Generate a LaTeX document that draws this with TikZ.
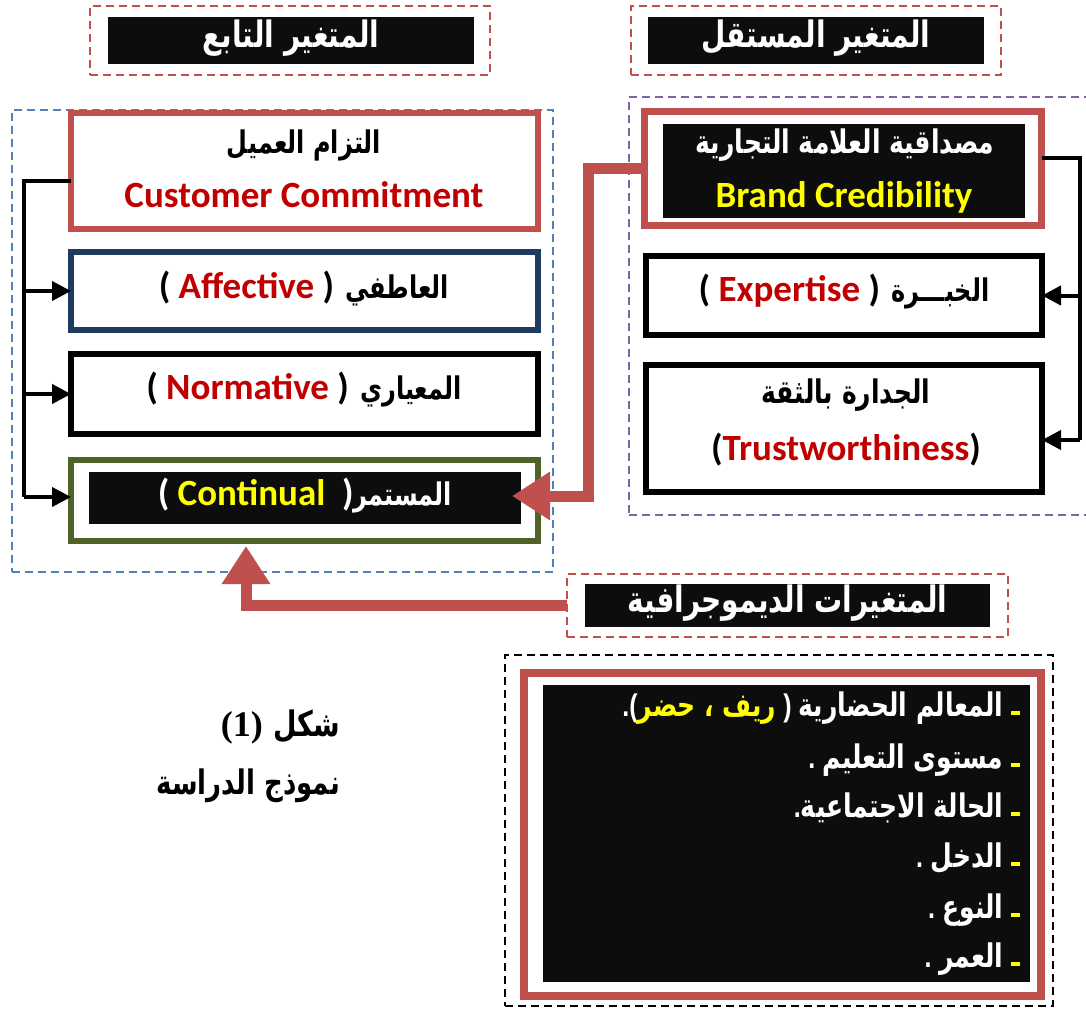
\documentclass[tikz,border=0pt]{standalone}
\usepackage{fontspec}
\usepackage{graphicx}
\usetikzlibrary{arrows.meta}
\TeXXeTstate=1
\newfontfamily\arfont[Script=Arabic]{DejaVu Sans}
\newfontfamily\latfont{Carlito}
\newfontfamily\serfont{Liberation Serif}
\newfontfamily\punctfont{Liberation Sans}
% Arabic runs: bold, right to left, slightly stretched upwards
\newcommand\AR[1]{\scalebox{1}[1.3]{\arfont\bfseries\beginR #1\endR}}
\newcommand\EN[1]{{\latfont\bfseries #1}}
\newcommand\PU[1]{\scalebox{1}[1.25]{\punctfont\bfseries #1}}
\newcommand\fs[1]{\fontsize{#1}{#1}\selectfont}
\newcommand\ydash{\textcolor{hiyellow}{\rule[1pt]{9pt}{4.5pt}}}
\definecolor{boxred}{HTML}{C0504D}
\definecolor{txtred}{HTML}{C00000}
\definecolor{navybox}{HTML}{1F3A5F}
\definecolor{olivebox}{HTML}{4F6228}
\definecolor{purpdash}{HTML}{8064A2}
\definecolor{bluedash}{HTML}{4F81BD}
\definecolor{ink}{HTML}{0D0D0D}
\definecolor{hiyellow}{HTML}{FFFF00}
\tikzset{
  frame/.style={draw, inner sep=0pt, outer sep=0pt},
  panel/.style={frame, line width=6pt, fill=white},
  inkfill/.style={fill=ink, inner sep=0pt, outer sep=0pt},
  dashframe/.style={frame, line width=2pt, dash pattern=on 8pt off 5pt},
  lbl/.style={inner sep=0pt, outer sep=0pt},
  bus/.style={line width=4pt, black},
  busarrow/.style={line width=4pt, black, -{Triangle[length=19pt,width=19pt]}},
  thickarrow/.style={line width=11pt, boxred, -{Triangle[length=38pt,width=46pt]}}
}
\begin{document}
\begin{tikzpicture}[x=1pt,y=-1pt]
\useasboundingbox (0,0) rectangle (1086,1009);

% ---- column headers
\node[dashframe, draw=boxred, minimum width=400pt, minimum height=69pt] (hdep) at (290,40.5) {};
\node[inkfill, minimum width=366pt, minimum height=47pt] (hdepin) at (291,40.5) {};
\node[lbl, text=white] (hdeptxt) at (291,38) {\fs{28}\AR{المتغير التابع}};

\node[dashframe, draw=boxred, minimum width=370pt, minimum height=69pt] (hind) at (816,40.5) {};
\node[inkfill, minimum width=336pt, minimum height=47pt] (hindin) at (816,40.5) {};
\node[lbl, text=white] (hindtxt) at (816,38) {\fs{28}\AR{المتغير المستقل}};

% ---- dependent variable group
\node[dashframe, draw=bluedash, minimum width=541pt, minimum height=462pt] (depgrp) at (282.5,341) {};

\node[panel, draw=boxred, minimum width=467pt, minimum height=116pt] (cc) at (304.5,171) {};
\node[lbl] (ccar) at (304,145) {\fs{24}\AR{التزام العميل}};
\node[lbl, text=txtred] (ccen) at (304,195) {\fs{37}\EN{Customer Commitment}};

\node[panel, draw=navybox, minimum width=467pt, minimum height=78pt] (aff) at (304.5,291) {};
\node[lbl] (afftxt) at (304,289) {\fs{37}\EN{( \textcolor{txtred}{Affective} )}\ \fs{24}\AR{العاطفي}};

\node[panel, draw=black, minimum width=467pt, minimum height=80pt] (nor) at (304.5,394) {};
\node[lbl] (nortxt) at (304,390) {\fs{37}\EN{( \textcolor{txtred}{Normative} )}\ \fs{24}\AR{المعياري}};

\node[panel, draw=olivebox, minimum width=467pt, minimum height=81pt] (cont) at (304.5,500.5) {};
\node[inkfill, minimum width=432pt, minimum height=52pt] (contin) at (305,498) {};
\node[lbl, text=white] (conttxt) at (305,496) {\fs{37}\EN{( \textcolor{hiyellow}{Continual} \ )}\fs{24}\AR{المستمر}};

% ---- independent variable group
\node[dashframe, draw=purpdash, minimum width=471pt, minimum height=418pt] (indgrp) at (864.5,306) {};

\node[panel, draw=boxred, line width=7pt, minimum width=397pt, minimum height=114pt] (brand) at (843,168.5) {};
\node[inkfill, minimum width=362pt, minimum height=94pt] (brandin) at (844,171) {};
\node[lbl, text=white] (brandar) at (845,145) {\fs{25}\AR{مصداقية العلامة التجارية}};
\node[lbl, text=hiyellow] (branden) at (844,197) {\fs{37}\EN{Brand Credibility}};

\node[panel, draw=black, minimum width=396pt, minimum height=79pt] (exp) at (844,295.5) {};
\node[lbl] (exptxt) at (844,292) {\fs{37}\EN{( \textcolor{txtred}{Expertise} )}\ \fs{24}\AR{الخبـــرة}};

\node[panel, draw=black, minimum width=396pt, minimum height=127pt] (trust) at (844,428.5) {};
\node[lbl] (trustar) at (846,395) {\fs{25}\AR{الجدارة بالثقة}};
\node[lbl] (trusten) at (846,450) {\fs{37}\EN{(\textcolor{txtred}{Trustworthiness})}};

% ---- demographic variables
\node[dashframe, draw=boxred, minimum width=441pt, minimum height=63pt] (demo) at (787.5,605.5) {};
\node[inkfill, minimum width=405pt, minimum height=43pt] (demoin) at (787.5,605.5) {};
\node[lbl, text=white] (demotxt) at (787.5,603) {\fs{28}\AR{المتغيرات الديموجرافية}};

\node[dashframe, draw=black, line width=2.5pt, minimum width=548pt, minimum height=351pt] (listgrp) at (779,830.5) {};
\node[panel, draw=boxred, line width=8pt, minimum width=517pt, minimum height=323pt] (listbox) at (782.5,834.5) {};
\node[inkfill, minimum width=487pt, minimum height=297pt] (listin) at (786.5,833.5) {};

\begin{scope}[every node/.style={lbl, text=white, anchor=base east}]
\node (l1) at (1020,716) {\fs{25}\PU{.(}\textcolor{hiyellow}{\AR{ريف ، حضر}}\PU{\ )\ }\AR{المعالم الحضارية} \ydash};
\node (l2) at (1020,768) {\fs{25}\PU{.} \AR{مستوى التعليم} \ydash};
\node (l3) at (1020,817) {\fs{25}\PU{.}\AR{الحالة الاجتماعية} \ydash};
\node (l4) at (1020,867) {\fs{25}\PU{.} \AR{الدخل} \ydash};
\node (l5) at (1020,918) {\fs{25}\PU{.} \AR{النوع} \ydash};
\node (l6) at (1020,967) {\fs{25}\PU{.} \AR{العمر} \ydash};
\end{scope}

% ---- caption
\node[lbl, anchor=east] (cap1) at (340,727) {\fs{36}{\serfont\bfseries (1)} \fs{27}\AR{شكل}};
\node[lbl, anchor=east] (cap2) at (340,786) {\fs{26}\AR{نموذج الدراسة}};

% ---- black bus, dependent side
\coordinate (lt) at (24,181);
\coordinate (lb) at (24,497);
\draw[bus] (cc.west |- lt) -- (lt) -- (lb);
\draw[busarrow] (lt |- aff.west) -- (aff.west);
\draw[busarrow] (lt |- nor.west) -- (nor.west);
\draw[busarrow] (lb) -- (cont.west |- lb);

% ---- black bus, independent side
\coordinate (rt) at (1080,158);
\coordinate (rb) at (1080,440);
\draw[bus] (brand.east |- rt) -- (rt) -- (rb);
\draw[busarrow] (rt |- exp.east) -- (exp.east);
\draw[busarrow] (rb) -- (trust.east |- rb);

% ---- thick red connectors into Continual
\coordinate (rc) at (588,496);
\draw[thickarrow] (brand.west) -| (rc) -- ([xshift=-26pt]cont.east |- rc);
\draw[thickarrow] (demo.west) -| ([xshift=-58.5pt,yshift=-5pt]cont.south);
\end{tikzpicture}
\end{document}
